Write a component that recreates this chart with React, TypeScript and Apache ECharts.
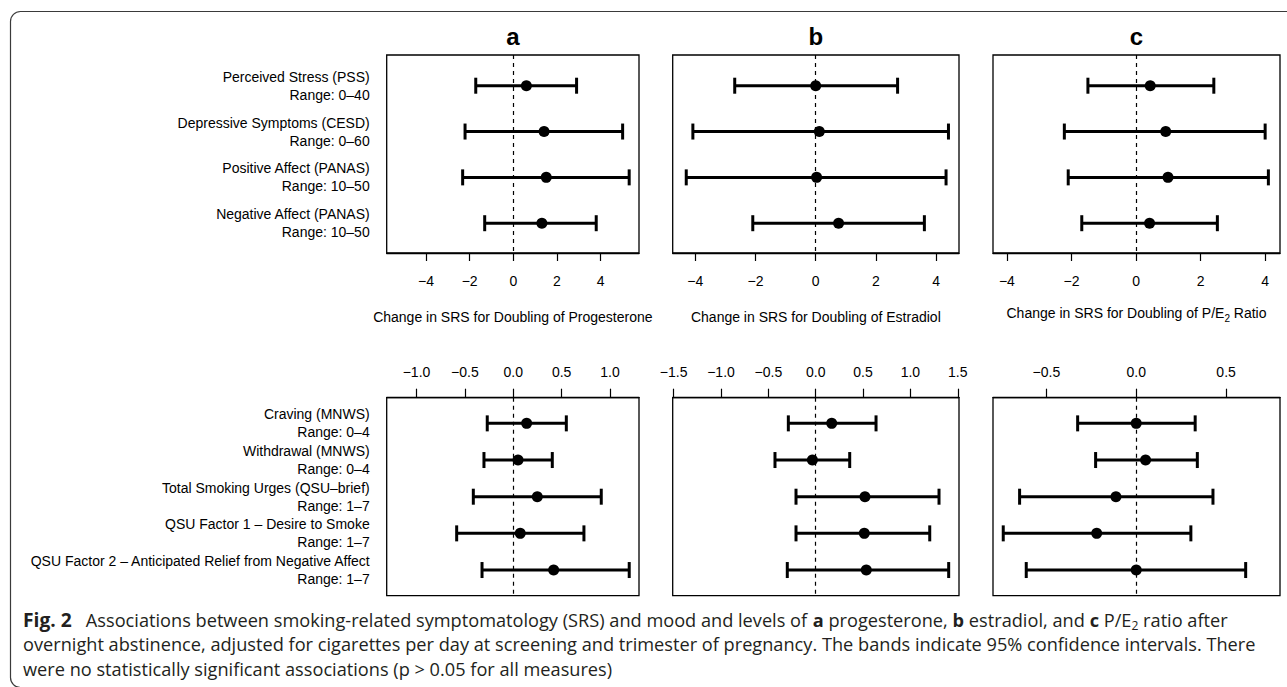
import React, { useEffect, useRef } from "react";
import * as echarts from "echarts";

// ---------- labels ----------
const topLabels = [
  "Perceived Stress (PSS)",
  "Depressive Symptoms (CESD)",
  "Positive Affect (PANAS)",
  "Negative Affect (PANAS)",
];
const topRanges = ["Range: 0–40", "Range: 0–60", "Range: 10–50", "Range: 10–50"];
const bottomLabels = [
  "Craving (MNWS)",
  "Withdrawal (MNWS)",
  "Total Smoking Urges (QSU–brief)",
  "QSU Factor 1 – Desire to Smoke",
  "QSU Factor 2 – Anticipated Relief from Negative Affect",
];
const bottomRanges = ["Range: 0–4", "Range: 0–4", "Range: 1–7", "Range: 1–7", "Range: 1–7"];
const panelTitles = ["a", "b", "c"];
const topAxisNames = [
  "Change in SRS for Doubling of Progesterone",
  "Change in SRS for Doubling of Estradiol",
  "Change in SRS for Doubling of P/E{sub|2} Ratio",
];

// ---------- mood (top row) ----------
const progMoodEst = [0.6, 1.41, 1.51, 1.31];
const progMoodLo = [-1.72, -2.21, -2.32, -1.31];
const progMoodHi = [2.9, 5.01, 5.31, 3.8];
const estrMoodEst = [0.0, 0.12, 0.03, 0.76];
const estrMoodLo = [-2.69, -4.08, -4.3, -2.09];
const estrMoodHi = [2.72, 4.41, 4.33, 3.61];
const ratioMoodEst = [0.44, 0.92, 0.99, 0.42];
const ratioMoodLo = [-1.49, -2.22, -2.1, -1.68];
const ratioMoodHi = [2.41, 4.0, 4.1, 2.52];

// ---------- smoking symptoms (bottom row) ----------
const progSrsEst = [0.138, 0.049, 0.248, 0.072, 0.417];
const progSrsLo = [-0.269, -0.303, -0.413, -0.585, -0.323];
const progSrsHi = [0.548, 0.403, 0.909, 0.73, 1.198];
const estrSrsEst = [0.169, -0.035, 0.52, 0.513, 0.534];
const estrSrsLo = [-0.289, -0.43, -0.208, -0.208, -0.3];
const estrSrsHi = [0.637, 0.359, 1.302, 1.204, 1.404];
const ratioSrsEst = [0.0, 0.052, -0.113, -0.22, 0.0];
const ratioSrsLo = [-0.326, -0.226, -0.649, -0.74, -0.612];
const ratioSrsHi = [0.328, 0.34, 0.427, 0.304, 0.609];

// ---------- ticks & axis limits ----------
const topTicks = [-4, -2, 0, 2, 4];
const bottomTicksA = [-1, -0.5, 0, 0.5, 1];
const bottomTicksB = [-1.5, -1, -0.5, 0, 0.5, 1, 1.5];
const bottomTicksC = [-0.5, 0, 0.5];
const topLimits = [
  [-5.8, 5.76],
  [-4.75, 4.76],
  [-4.43, 4.46],
];
const bottomLimits = [
  [-1.308, 1.299],
  [-1.51, 1.513],
  [-0.797, 0.8],
];

// ---------- caption ----------
const captionLines = [
  "{fig|Fig. 2}   Associations between smoking-related symptomatology (SRS) and mood and levels of {b|a} progesterone, {b|b} estradiol, and {b|c} P/E{sub|2} ratio after",
  "overnight abstinence, adjusted for cigarettes per day at screening and trimester of pregnancy. The bands indicate 95% confidence intervals. There",
  "were no statistically significant associations (p > 0.05 for all measures)",
];

const FONT = "Liberation Sans";
const CAP_FONT = "Open Sans";

const fmtInt = (v: number) => (v < 0 ? "−" + Math.abs(v) : String(v));
const fmtDec = (v: number) => (v < 0 ? "−" + Math.abs(v).toFixed(1) : v.toFixed(1));

function measure(font: string, text: string): number {
  const ctx = document.createElement("canvas").getContext("2d");
  if (!ctx) return text.length * 8;
  ctx.font = font;
  return ctx.measureText(text).width;
}

export default function App() {
  const ref = useRef<HTMLDivElement>(null);

  useEffect(() => {
    if (!ref.current) return;
    const chart = echarts.init(ref.current, undefined, { renderer: "svg" });

    const colX = [
      [386.7, 639],
      [672.7, 959],
      [993, 1280],
    ];
    const topY = [55, 253];
    const botY = [397.7, 595.7];

    const grids: any[] = [];
    const xAxes: any[] = [];
    const yAxes: any[] = [];
    const series: any[] = [];

    const topSets = [
      [progMoodEst, progMoodLo, progMoodHi],
      [estrMoodEst, estrMoodLo, estrMoodHi],
      [ratioMoodEst, ratioMoodLo, ratioMoodHi],
    ];
    const botSets = [
      [progSrsEst, progSrsLo, progSrsHi],
      [estrSrsEst, estrSrsLo, estrSrsHi],
      [ratioSrsEst, ratioSrsLo, ratioSrsHi],
    ];
    const botTicks = [bottomTicksA, bottomTicksB, bottomTicksC];

    const renderItem = (_p: any, api: any) => {
      const y = api.value(2);
      const lo = api.coord([api.value(0), y]);
      const hi = api.coord([api.value(1), y]);
      const h = 8;
      const style = { stroke: "#000", lineWidth: 3 };
      return {
        type: "group",
        children: [
          { type: "line", shape: { x1: lo[0], y1: lo[1], x2: hi[0], y2: hi[1] }, style },
          { type: "line", shape: { x1: lo[0], y1: lo[1] - h, x2: lo[0], y2: lo[1] + h }, style },
          { type: "line", shape: { x1: hi[0], y1: hi[1] - h, x2: hi[0], y2: hi[1] + h }, style },
        ],
      };
    };

    const addPanel = (
      row: number,
      col: number,
      sets: number[][],
      labels: string[],
      ranges: string[],
      ticks: number[],
      lim: number[],
      fmt: (v: number) => string
    ) => {
      const idx = grids.length;
      const [x0, x1] = colX[col];
      const [y0, y1] = row === 0 ? topY : botY;
      grids.push({
        left: x0,
        top: y0,
        width: x1 - x0,
        height: y1 - y0,
        show: true,
        borderColor: "#000",
        borderWidth: 1.3,
        backgroundColor: "transparent",
      });
      const rowVals = labels.map((_, i) => i + 1);
      xAxes.push({
        type: "value",
        gridIndex: idx,
        min: lim[0],
        max: lim[1],
        position: row === 0 ? "bottom" : "top",
        axisLine: { show: true, onZero: false, lineStyle: { color: "#000", width: 1.3 } },
        axisTick: {
          show: true,
          customValues: ticks,
          length: row === 0 ? 8 : 9,
          lineStyle: { color: "#000", width: 1.2 },
        },
        axisLabel: {
          show: true,
          customValues: ticks,
          formatter: (v: number) => fmt(v),
          fontSize: 14,
          color: "#000",
          fontFamily: FONT,
          margin: row === 0 ? 21 : 19,
          showMinLabel: true,
          showMaxLabel: true,
        },
        splitLine: { show: false },
        name: row === 0 ? topAxisNames[col] : "",
        nameLocation: "middle",
        nameGap: row === 0 ? (col === 2 ? 50 : 57) : 0,
        nameTextStyle: {
          fontSize: 14,
          color: "#000",
          fontFamily: FONT,
          lineHeight: col === 2 ? 20 : 14,
          rich: {
            sub: { fontSize: 10, lineHeight: 10, verticalAlign: "bottom", fontFamily: FONT, color: "#000" },
          },
        },
      });
      yAxes.push({
        type: "value",
        gridIndex: idx,
        min: row === 0 ? 0.33 : 0.3,
        max: row === 0 ? 4.65 : 5.7,
        inverse: true,
        axisLine: { show: false },
        axisTick: { show: false },
        splitLine: { show: false },
        axisLabel: {
          show: col === 0,
          customValues: rowVals,
          showMinLabel: true,
          showMaxLabel: true,
          hideOverlap: false,
          formatter: (v: number) => {
            const i = Math.round(v) - 1;
            return labels[i] + "\n" + ranges[i];
          },
          fontSize: 14,
          lineHeight: 18,
          color: "#000",
          fontFamily: FONT,
          margin: 17,
        },
      });
      const [est, lo, hi] = sets;
      series.push({
        type: "custom",
        xAxisIndex: idx,
        yAxisIndex: idx,
        renderItem,
        encode: { x: [0, 1], y: 2 },
        data: lo.map((l, i) => [l, hi[i], i + 1]),
        z: 3,
      });
      series.push({
        type: "scatter",
        xAxisIndex: idx,
        yAxisIndex: idx,
        symbol: "circle",
        symbolSize: 11,
        itemStyle: { color: "#000", opacity: 1 },
        data: est.map((e, i) => [e, i + 1]),
        z: 4,
        markLine: {
          silent: true,
          symbol: ["none", "none"],
          label: { show: false },
          lineStyle: { type: [4, 4], color: "#000", width: 1.2 },
          data: [{ xAxis: 0 }],
          z: 2,
        },
      });
    };

    for (let c = 0; c < 3; c++) {
      addPanel(0, c, topSets[c], topLabels, topRanges, topTicks, topLimits[c], fmtInt);
    }
    for (let c = 0; c < 3; c++) {
      addPanel(1, c, botSets[c], bottomLabels, bottomRanges, botTicks[c], bottomLimits[c], fmtDec);
    }

    // caption scale to match condensed typeface width
    const capSize = 18;
    const plain2 = captionLines[1];
    const w2 = measure(`${capSize}px "${CAP_FONT}"`, plain2);
    const capScale = w2 > 0 ? 1234 / w2 : 1;
    const capRich = {
      fig: { fontFamily: CAP_FONT, fontSize: capSize + 1, fontWeight: "bold", fill: "#231f20", lineHeight: 24 },
      b: { fontFamily: CAP_FONT, fontSize: capSize, fontWeight: "bold", fill: "#231f20", lineHeight: 24 },
      sub: { fontFamily: CAP_FONT, fontSize: 12, fill: "#231f20", lineHeight: 12, verticalAlign: "bottom" },
    };
    const capYs = [620, 644.5, 669];

    const graphics: any[] = [
      {
        type: "rect",
        shape: { x: 10.5, y: 11.5, width: 1300, height: 676, r: 10 },
        style: { fill: "none", stroke: "#3a3a3a", lineWidth: 1.2 },
        silent: true,
      },
      ...panelTitles.map((t, i) => ({
        type: "text",
        x: (colX[i][0] + colX[i][1]) / 2,
        y: 36,
        style: {
          text: t,
          fontFamily: FONT,
          fontSize: 24,
          fontWeight: "bold",
          fill: "#000",
          textAlign: "center",
          textVerticalAlign: "middle",
        },
      })),
      ...captionLines.map((line, i) => ({
        type: "text",
        x: 23,
        y: capYs[i],
        scaleX: capScale,
        style: {
          text: line,
          fontFamily: CAP_FONT,
          fontSize: capSize,
          fill: "#231f20",
          lineHeight: 24,
          rich: capRich,
          textAlign: "left",
          textVerticalAlign: "middle",
        },
      })),
    ];

    chart.setOption({
      animation: false,
      backgroundColor: "#fff",
      textStyle: { fontFamily: FONT },
      grid: grids,
      xAxis: xAxes,
      yAxis: yAxes,
      series,
      graphic: graphics,
    });

    return () => chart.dispose();
  }, []);

  return (
    <div
      ref={ref}
      style={{ position: "fixed", left: 0, top: 0, width: 1287, height: 687, background: "#fff" }}
    />
  );
}
